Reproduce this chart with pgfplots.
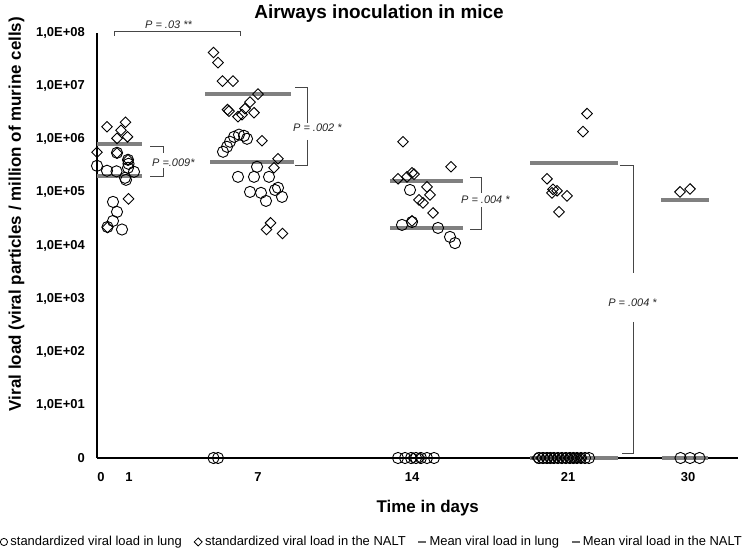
\documentclass[border=0pt]{standalone}
\usepackage{fontspec}
\setmainfont{Liberation Sans}
\usepackage{pgfplots}
\pgfplotsset{compat=1.18}
\definecolor{meangray}{RGB}{128,128,128}
\definecolor{brk}{RGB}{70,70,70}
\begin{document}
\begin{tikzpicture}[x=1bp,y=1bp]
\useasboundingbox (0,0) rectangle (743,552);
\begin{axis}[
  at={(97bp,94bp)}, anchor=south west,
  scale only axis, width=641bp, height=425bp,
  xmin=97, xmax=738, ymode=log, ymin=1, ymax=1e8,
  axis lines=left, axis line style={-, black, line width=1.3bp},
  clip=false,
  xtick={101,129,258,412,568,688}, xticklabels={0,1,7,14,21,30},
  ytick={1,10,100,1000,10000,100000,1000000,10000000,100000000},
  yticklabels={0,{1,0E+01},{1,0E+02},{1,0E+03},{1,0E+04},{1,0E+05},{1,0E+06},{1,0E+07},{1,0E+08}},
  major tick length=0pt, minor tick length=0pt, minor y tick num=0,
  yticklabel style={font=\bfseries\fontsize{13}{15}\selectfont, anchor=east, inner sep=0pt, xshift=-12bp},
  xticklabel style={font=\bfseries\fontsize{13}{15}\selectfont, anchor=north, inner sep=0pt, yshift=-14bp},
  every axis title shift=0pt,
  title={Airways inoculation in mice},
  title style={at={(axis description cs:0.44,1.033)}, anchor=base, font=\bfseries\fontsize{19}{22}\selectfont},
  xlabel={Time in days},
  xlabel style={at={(axis description cs:0.516,-0.1294)}, anchor=base, font=\bfseries\fontsize{17}{20}\selectfont},
  ylabel={Viral load (viral particles / million of murine cells)},
  ylabel style={at={(axis description cs:-0.1186,0.574)}, anchor=base, rotate=0, font=\bfseries\fontsize{17}{20}\selectfont},
  legend style={at={(axis description cs:0.428,-0.1976)}, anchor=center, draw=none, fill=none,
    legend columns=4, font=\fontsize{13}{15}\selectfont, nodes={inner sep=1bp},
    /tikz/every odd column/.append style={column sep=1.5bp},
    /tikz/every even column/.append style={column sep=11bp}},
  legend cell align=left,
  lung/.style={only marks, mark=o, mark size=5.6bp, black, mark options={line width=0.9bp, draw=black, fill=none}},
  nalt/.style={only marks, mark=square, mark size=3.75bp, black, mark options={rotate=45, line width=0.9bp, draw=black, fill=none}},
  meanl/.style={meangray, line width=4bp, no marks},
]
% ---- mean lines: NALT
\addplot[meanl, forget plot] coordinates {(97,8.22e5) (142,8.22e5)};
\addplot[meanl, forget plot] coordinates {(205,7.06e6) (291,7.06e6)};
\addplot[meanl, forget plot] coordinates {(390,1.65e5) (463,1.65e5)};
\addplot[meanl, forget plot] coordinates {(530,3.56e5) (618,3.56e5)};
\addplot[meanl, forget plot] coordinates {(661,7.22e4) (709,7.22e4)};
% ---- mean lines: lung
\addplot[meanl, forget plot] coordinates {(97,2.05e5) (142,2.05e5)};
\addplot[meanl, forget plot] coordinates {(210,3.68e5) (294,3.68e5)};
\addplot[meanl, forget plot] coordinates {(390,2.11e4) (463,2.11e4)};
\addplot[meanl, forget plot] coordinates {(530,1) (618,1)};
\addplot[meanl, forget plot] coordinates {(662,1) (708,1)};
% ---- lung
\addplot[lung, forget plot] coordinates {
(97,3.16e5) (107,2.55e5) (116.5,2.49e5) (117,5.56e5) (128,4.10e5) (128.5,3.45e5)
(128,2.90e5) (134,2.44e5) (125,1.88e5) (126,1.72e5) (113,6.62e4) (117,4.29e4)
(113,2.90e4) (107.5,2.23e4) (122,2.0e4)
(223,5.81e5) (227,7.21e5) (230,8.97e5) (234,1.11e6) (239,1.22e6) (244,1.16e6)
(247,1.02e6) (257,3.03e5) (238,1.96e5) (254,1.96e5) (269,1.96e5) (250,1.02e5)
(261,9.79e4) (275,1.11e5) (278,1.22e5) (282,8.22e4) (266,6.91e4)
(410,1.11e5) (402,2.44e4) (412,2.77e4) (438,2.14e4) (450,1.45e4) (455,1.11e4)
(213.5,1) (218,1)
(398,1) (405,1) (411,1) (416,1) (421,1) (427,1) (434,1)
(539,1) (543,1) (547,1) (550.5,1) (554,1) (558,1) (562,1) (566,1) (570,1)
(573.5,1) (577,1) (581,1) (585,1) (589,1)
(680.5,1) (690,1) (699.5,1)
};
% ---- NALT
\addplot[nalt, forget plot] coordinates {
(107,1.72e6) (125.5,2.09e6) (121,1.48e6) (127.5,1.11e6) (117,1.04e6) (97,5.69e5)
(117,5.5e5) (128.5,7.54e4) (107.5,2.19e4) (128,4.1e5)
(213.5,4.29e7) (218,2.77e7) (222.5,1.24e7) (233,1.24e7) (258,7.06e6) (250,4.99e6)
(227.5,3.60e6) (229,3.38e6) (245,3.76e6) (254,3.16e6) (238,2.66e6) (242,2.90e6)
(262,9.37e5) (278,4.29e5) (274,2.90e5) (270.5,2.66e4) (266.5,2.0e4) (282.5,1.68e4)
(403,8.97e5) (451,3.03e5) (398,1.80e5) (407,1.96e5) (412,2.33e5) (414,2.2e5)
(427,1.27e5) (430,8.97e4) (419,7.22e4) (423,6.34e4) (433,4.1e4) (412,2.9e4)
(587,3.03e6) (583,1.39e6) (547,1.80e5) (553,1.14e5) (552,9.79e4) (557,1.07e5)
(567,8.59e4) (559,4.29e4)
(680,1.02e5) (690,1.16e5)
(413,1) (420,1)
(537,1) (541,1) (545,1) (549,1) (553,1) (557,1) (561,1) (565,1) (569,1) (573,1) (577,1) (581,1)
};
% ---- legend
\addlegendimage{legend image code/.code={\draw[black,line width=0.8bp] (3.8bp,0) circle (3.6bp);}}
\addlegendentry{standardized viral load in lung}
\addlegendimage{legend image code/.code={\draw[black,line width=0.8bp] (0,0)--(4bp,4bp)--(8bp,0)--(4bp,-4bp)--cycle;}}
\addlegendentry{standardized viral load in the NALT}
\addlegendimage{legend image code/.code={\draw[black!60,line width=1.3bp] (0,0)--(8bp,0);}}
\addlegendentry{Mean viral load in lung}
\addlegendimage{legend image code/.code={\draw[black!60,line width=1.3bp] (0,0)--(8bp,0);}}
\addlegendentry{Mean viral load in the NALT}
\end{axis}
% ---- significance brackets
\begin{scope}[brk, line width=0.9bp]
\draw (114,516) -- (114,521) -- (240,521) -- (240,516);
\draw (150,406) -- (163,406) -- (163,399);
\draw (163,384) -- (163,376) -- (150,376);
\draw (295,465) -- (307,465) -- (307,429);
\draw (307,412) -- (307,387) -- (295,387);
\draw (470,375) -- (481,375) -- (481,359);
\draw (481,345) -- (481,323) -- (470,323);
\draw (620,387) -- (633,387) -- (633,279);
\draw (633,230) -- (633,99) -- (622,99);
\end{scope}
\begin{scope}[every node/.style={font=\itshape\fontsize{11}{13}\selectfont, text=black!85, inner sep=0pt}]
\node[anchor=center] at (168.5,527) {P = .03 **};
\node[anchor=west] at (152,389) {P =.009*};
\node[anchor=west] at (293,424) {P = .002 *};
\node[anchor=west] at (461,352) {P = .004 *};
\node[anchor=center] at (632.5,249) {P = .004 *};
\end{scope}
\end{tikzpicture}
\end{document}
